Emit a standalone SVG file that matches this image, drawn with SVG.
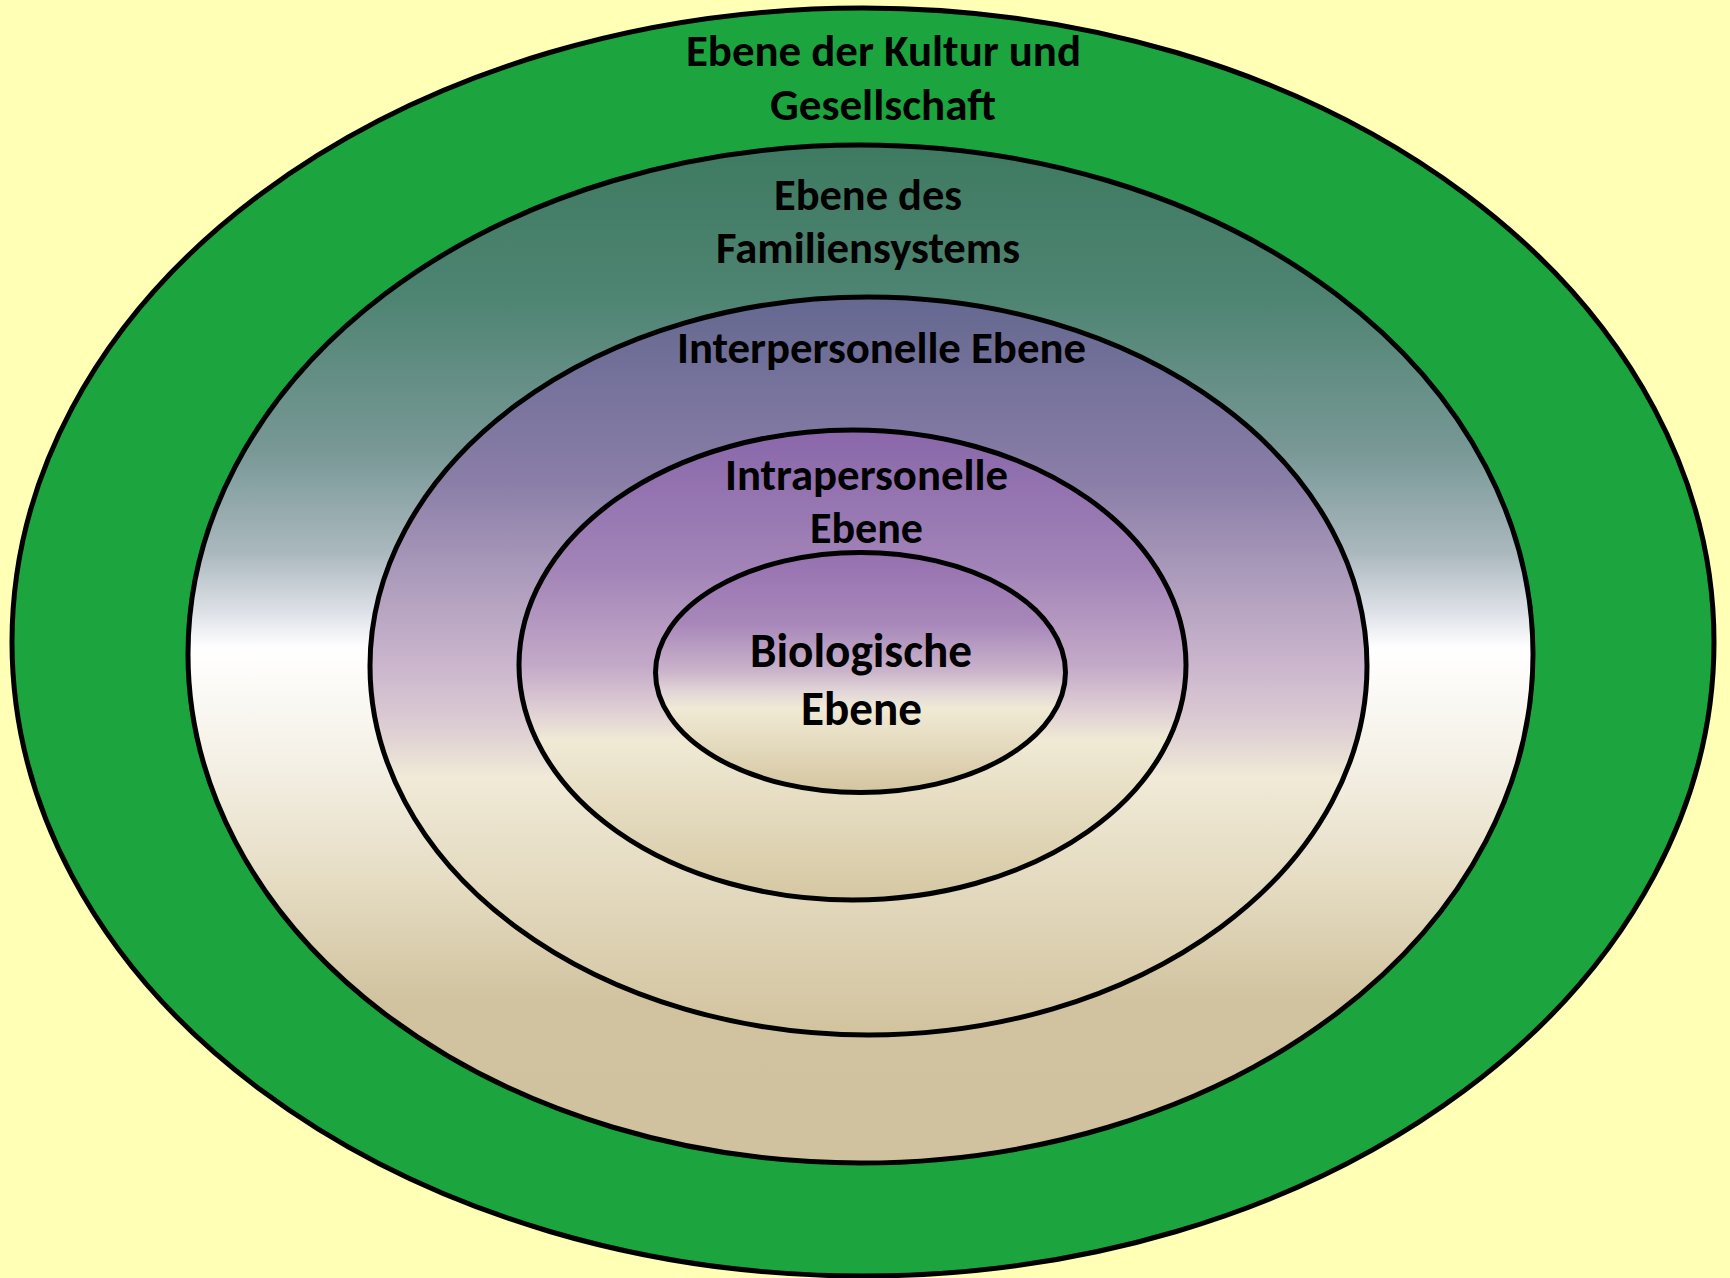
<svg xmlns="http://www.w3.org/2000/svg" width="1730" height="1278" viewBox="0 0 1730 1278">
  <style>
    .ring { stroke: #000000; stroke-width: 5; }
    .lbl { font-family: Carlito, Calibri, Lato, "Open Sans", sans-serif; font-weight: bold; fill: #000000; text-anchor: middle; }
    .s44 { font-size: 44px; }
    .s48 { font-size: 48px; }
  </style>
  <defs>
    <linearGradient id="gFam" x1="0" y1="0" x2="0" y2="1">
      <stop offset="0" stop-color="#3E7A61"/>
      <stop offset="0.15" stop-color="#4E8472"/>
      <stop offset="0.3" stop-color="#789896"/>
      <stop offset="0.4" stop-color="#AAB8BE"/>
      <stop offset="0.46" stop-color="#DEE2E8"/>
      <stop offset="0.495" stop-color="#FFFFFF"/>
      <stop offset="0.6" stop-color="#F5F1E7"/>
      <stop offset="0.72" stop-color="#E6DDC4"/>
      <stop offset="0.84" stop-color="#D1C39F"/>
      <stop offset="1" stop-color="#D0C29E"/>
    </linearGradient>
    <linearGradient id="gInter" x1="0" y1="0" x2="0" y2="1">
      <stop offset="0" stop-color="#646890"/>
      <stop offset="0.25" stop-color="#8A7EA8"/>
      <stop offset="0.5" stop-color="#CBB6CD"/>
      <stop offset="0.58" stop-color="#DCCCD3"/>
      <stop offset="0.65" stop-color="#F0EAD7"/>
      <stop offset="1" stop-color="#D2C39E"/>
    </linearGradient>
    <linearGradient id="gIntra" x1="0" y1="0" x2="0" y2="1">
      <stop offset="0" stop-color="#8967AA"/>
      <stop offset="0.3" stop-color="#A384B8"/>
      <stop offset="0.5" stop-color="#C3A9C8"/>
      <stop offset="0.59" stop-color="#DDCCD4"/>
      <stop offset="0.66" stop-color="#F0EAD5"/>
      <stop offset="1" stop-color="#D5C7A2"/>
    </linearGradient>
    <linearGradient id="gBio" x1="0" y1="0" x2="0" y2="1">
      <stop offset="0" stop-color="#9670B0"/>
      <stop offset="0.3" stop-color="#A888BA"/>
      <stop offset="0.5" stop-color="#CBB5CB"/>
      <stop offset="0.58" stop-color="#E2D6D8"/>
      <stop offset="0.65" stop-color="#F0EAD5"/>
      <stop offset="1" stop-color="#D4C5A0"/>
    </linearGradient>
  </defs>

  <rect x="0" y="0" width="1730" height="1278" fill="#FFFFB5"/>

  <g id="connectors"/>

  <g id="node-kultur">
    <ellipse class="ring" cx="863" cy="642" rx="851" ry="634" fill="#1CA53F"/>
    <text class="lbl s44" x="883.5" y="66" textLength="395" lengthAdjust="spacingAndGlyphs">Ebene der Kultur und</text>
    <text class="lbl s44" x="883" y="120" textLength="226" lengthAdjust="spacingAndGlyphs">Gesellschaft</text>
  </g>

  <g id="node-familie">
    <ellipse class="ring" cx="860.5" cy="654" rx="672.5" ry="509" fill="url(#gFam)"/>
    <text class="lbl s44" x="868" y="210" textLength="188" lengthAdjust="spacingAndGlyphs">Ebene des</text>
    <text class="lbl s44" x="868" y="263" textLength="304" lengthAdjust="spacingAndGlyphs">Familiensystems</text>
  </g>

  <g id="node-interpersonell">
    <ellipse class="ring" cx="868.5" cy="666" rx="498.5" ry="369" fill="url(#gInter)"/>
    <text class="lbl s44" x="881.5" y="363" textLength="409" lengthAdjust="spacingAndGlyphs">Interpersonelle Ebene</text>
  </g>

  <g id="node-intrapersonell">
    <ellipse class="ring" cx="852.5" cy="665" rx="333.5" ry="235" fill="url(#gIntra)"/>
    <text class="lbl s44" x="866.5" y="490" textLength="283" lengthAdjust="spacingAndGlyphs">Intrapersonelle</text>
    <text class="lbl s44" x="866.5" y="543" textLength="113" lengthAdjust="spacingAndGlyphs">Ebene</text>
  </g>

  <g id="node-biologisch">
    <ellipse class="ring" cx="860.5" cy="672.5" rx="205" ry="120" fill="url(#gBio)"/>
    <text class="lbl s48" x="861" y="667" textLength="222" lengthAdjust="spacingAndGlyphs">Biologische</text>
    <text class="lbl s48" x="861.5" y="725" textLength="121" lengthAdjust="spacingAndGlyphs">Ebene</text>
  </g>
</svg>
